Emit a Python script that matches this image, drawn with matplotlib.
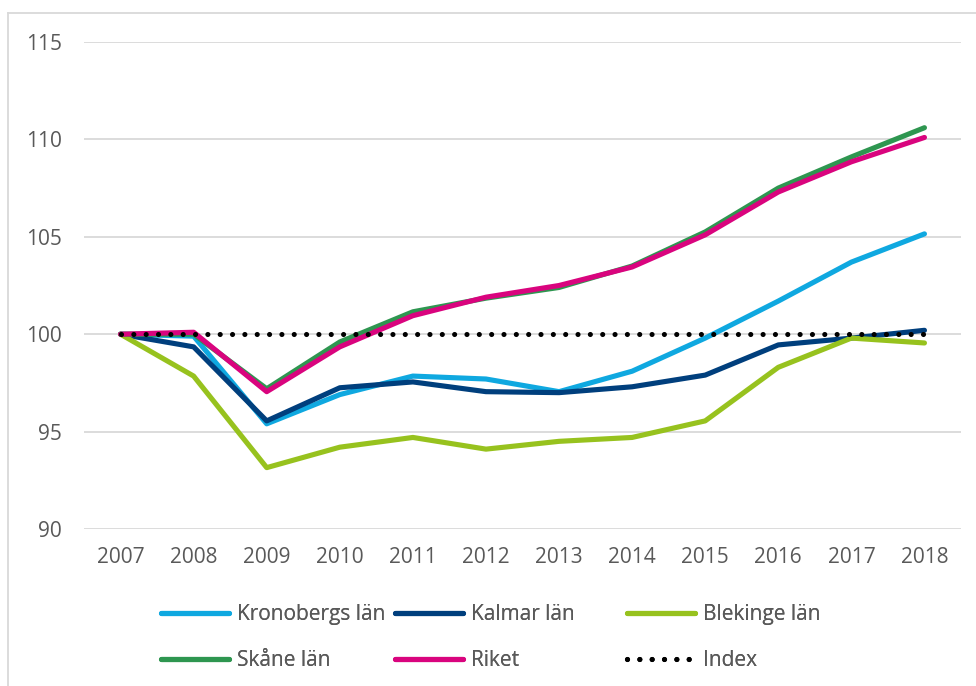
import matplotlib
matplotlib.use("Agg")
import matplotlib.pyplot as plt
from matplotlib.lines import Line2D

years = ["2007", "2008", "2009", "2010", "2011", "2012", "2013", "2014", "2015", "2016", "2017", "2018"]
kronoberg = [100, 99.9, 95.4, 96.9, 97.85, 97.7, 97.05, 98.1, 99.8, 101.7, 103.7, 105.15]
kalmar = [100, 99.35, 95.55, 97.25, 97.55, 97.05, 97.0, 97.3, 97.9, 99.45, 99.8, 100.2]
blekinge = [100, 97.85, 93.15, 94.2, 94.7, 94.1, 94.5, 94.7, 95.55, 98.3, 99.8, 99.55]
skane = [100, 100.0, 97.2, 99.6, 101.15, 101.85, 102.4, 103.5, 105.25, 107.5, 109.1, 110.6]
riket = [100, 100.1, 97.05, 99.35, 100.95, 101.9, 102.5, 103.45, 105.1, 107.3, 108.85, 110.1]
index = [100] * 12

names = ["Kronobergs län", "Kalmar län", "Blekinge län", "Skåne län", "Riket", "Index"]
colors = ["#0FA8E0", "#003F7D", "#97C21E", "#2E9650", "#D9047E", "#000000"]
yticks = [90, 95, 100, 105, 110, 115]

plt.rcParams['font.family'] = ['Open Sans', 'DejaVu Sans']
W, H = 976, 686
fig = plt.figure(figsize=(W / 100, H / 100), dpi=100)
ax = fig.add_axes([84 / W, 1 - 529 / H, 877 / W, (529 - 42) / H])

x = list(range(len(years)))
lw = 3.7
fs = 15
series = [kronoberg, kalmar, blekinge, skane, riket]
handles = []
for s, c, n in zip(series, colors[:5], names[:5]):
    h, = ax.plot(x, s, color=c, lw=lw, solid_capstyle='round', solid_joinstyle='round', label=n, zorder=3)
    handles.append(h)
hi, = ax.plot(x, index, color='black', lw=lw, linestyle=(0, (0.001, 2.4)),
              dash_capstyle='round', label="Index", zorder=4)
handles.append(hi)

ax.set_xlim(-0.5, len(years) - 0.5)
ax.set_ylim(90, 115)
ax.set_yticks(yticks)
ax.set_yticklabels([str(t) for t in yticks])
ax.set_xticks(x)
ax.set_xticklabels(years)
ax.grid(axis='y', color='#D9D9D9', lw=1.3, zorder=0)
ax.set_axisbelow(True)
for sp in ax.spines.values():
    sp.set_visible(False)
ax.tick_params(axis='both', length=0, labelsize=fs, labelcolor='#595959')
ax.tick_params(axis='y', pad=16)
ax.tick_params(axis='x', pad=13)

# legend: three columns placed manually
col_x = [161, 395, 627]
for ci in range(3):
    hs = [handles[ci], handles[ci + 3]]
    leg = fig.legend(hs, [h.get_label() for h in hs], loc='upper left',
                     bbox_to_anchor=(col_x[ci] / W, 1 - 604 / H), frameon=False,
                     fontsize=fs, handlelength=3.26, handletextpad=0.38,
                     labelspacing=1.2, labelcolor='#595959', borderaxespad=0, borderpad=0)
    fig.add_artist(leg)

# chart border
fig.add_artist(Line2D([8 / W, 8 / W], [0, 1 - 13 / H], transform=fig.transFigure, color='#D9D9D9', lw=1.3))
fig.add_artist(Line2D([8 / W, 1], [1 - 13 / H, 1 - 13 / H], transform=fig.transFigure, color='#D9D9D9', lw=1.3))

fig.savefig("out.png", dpi=100)
